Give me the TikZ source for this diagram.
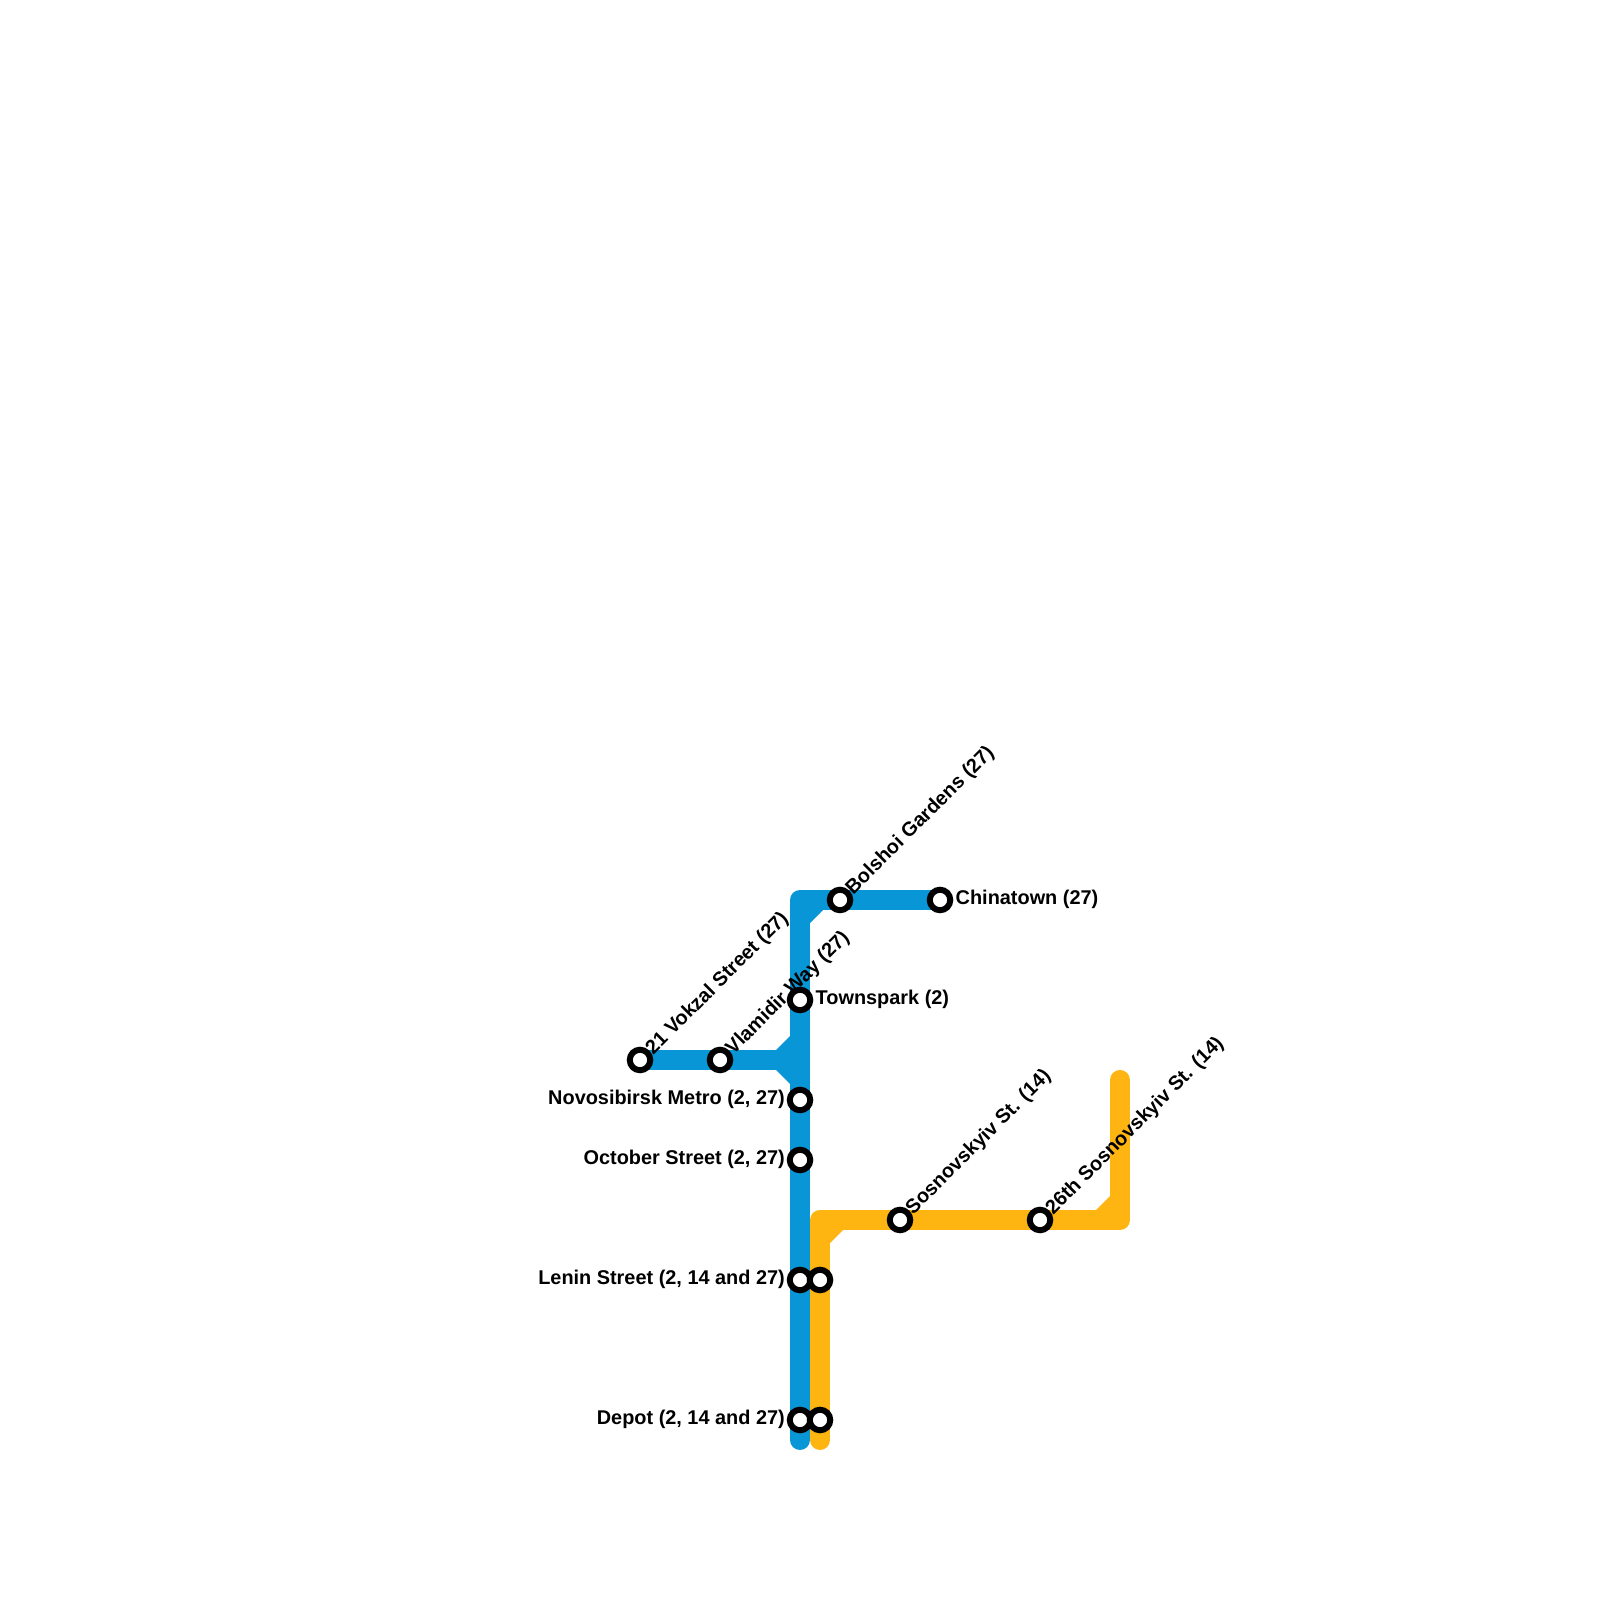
\documentclass[tikz,border=0pt]{standalone}
\usepackage{fontspec}
\setmainfont{Liberation Sans}
\usepackage{xcolor}
\definecolor{lineBlue}{HTML}{0896D7}
\definecolor{lineOrange}{HTML}{FFB511}
\usetikzlibrary{backgrounds}
\tikzset{
  stationdot/.style={circle, draw=black, fill=white, line width=0.06cm, minimum size=0.205cm, inner sep=0pt},
  routeline/.style={line width=0.2cm, line cap=round, line join=round},
  labeltext/.style={font=\fontsize{5.66}{7}\selectfont\bfseries, text=black, inner sep=0pt},
  labelE/.style={labeltext, anchor=west, xshift=0.15cm, yshift=0.01cm},
  labelW/.style={labeltext, anchor=east, xshift=-0.145cm, yshift=0.01cm},
  labelNE/.style={labeltext, anchor=west, rotate=45, xshift=0.12cm, yshift=-0.01cm}
}

\begin{document}
\begin{tikzpicture}
  \useasboundingbox (0cm,0cm) rectangle (16cm,16cm);
  % blue stations
  \node[stationdot] (vokzal) at (6.4cm,5.4cm) {};
  \node[stationdot] (vlamidir) at (7.2cm,5.4cm) {};
  \node[stationdot] (townspark) at (8cm,6cm) {};
  \node[stationdot] (novosibirsk) at (8cm,5cm) {};
  \node[stationdot] (october) at (8cm,4.4cm) {};
  \node[stationdot] (lenin) at (8cm,3.2cm) {};
  \node[stationdot] (depot) at (8cm,1.8cm) {};
  \node[stationdot] (bolshoi) at (8.4cm,7cm) {};
  \node[stationdot] (chinatown) at (9.4cm,7cm) {};
  % orange stations
  \node[stationdot] (leninB) at (8.2cm,3.2cm) {};
  \node[stationdot] (depotB) at (8.2cm,1.8cm) {};
  \node[stationdot] (sosnovskyiv) at (9cm,3.8cm) {};
  \node[stationdot] (sosnovskyivB) at (10.4cm,3.8cm) {};
  % bends and line ends
  \coordinate (blueEnd) at (8cm,1.6cm);
  \coordinate (blueBend) at (8cm,7cm);
  \coordinate (blueJoin) at (8cm,5.4cm);
  \coordinate (orangeEnd) at (8.2cm,1.6cm);
  \coordinate (orangeBend) at (8.2cm,3.8cm);
  \coordinate (orangeBendB) at (11.2cm,3.8cm);
  \coordinate (orangeTop) at (11.2cm,5.2cm);
  \begin{scope}[on background layer]
    \fill[white] (0cm,0cm) rectangle (16cm,16cm);
    \draw[routeline, draw=lineBlue] (blueEnd) -- (blueBend) -- (chinatown.center);
    \draw[routeline, draw=lineBlue] (vokzal.center) -- (blueJoin);
    \fill[lineBlue] (8.1cm,6.9cm) -- (8.23cm,6.9cm) -- (8.1cm,6.77cm) -- cycle;
    \fill[lineBlue] (7.76cm,5.5cm) -- (7.9cm,5.5cm) -- (7.9cm,5.64cm) -- cycle;
    \fill[lineBlue] (7.76cm,5.3cm) -- (7.9cm,5.3cm) -- (7.9cm,5.16cm) -- cycle;
    \draw[routeline, draw=lineOrange] (orangeEnd) -- (orangeBend) -- (orangeBendB) -- (orangeTop);
    \fill[lineOrange] (8.3cm,3.7cm) -- (8.43cm,3.7cm) -- (8.3cm,3.57cm) -- cycle;
    \fill[lineOrange] (10.96cm,3.9cm) -- (11.1cm,3.9cm) -- (11.1cm,4.04cm) -- cycle;
  \end{scope}
  % labels
  \node[labelNE] (vokzalLabel) at (vokzal.center) {21 Vokzal Street (27)};
  \node[labelNE] (vlamidirLabel) at (vlamidir.center) {Vlamidir Way (27)};
  \node[labelNE] (bolshoiLabel) at (bolshoi.center) {Bolshoi Gardens (27)};
  \node[labelNE] (sosnovskyivLabel) at (sosnovskyiv.center) {Sosnovskyiv St. (14)};
  \node[labelNE] (sosnovskyivBLabel) at (sosnovskyivB.center) {26th Sosnovskyiv St. (14)};
  \node[labelE] (chinatownLabel) at (chinatown.center) {Chinatown (27)};
  \node[labelE] (townsparkLabel) at (townspark.center) {Townspark (2)};
  \node[labelW] (novosibirskLabel) at (novosibirsk.center) {Novosibirsk Metro (2, 27)};
  \node[labelW] (octoberLabel) at (october.center) {October Street (2, 27)};
  \node[labelW] (leninLabel) at (lenin.center) {Lenin Street (2, 14 and 27)};
  \node[labelW] (depotLabel) at (depot.center) {Depot (2, 14 and 27)};
\end{tikzpicture}
\end{document}
